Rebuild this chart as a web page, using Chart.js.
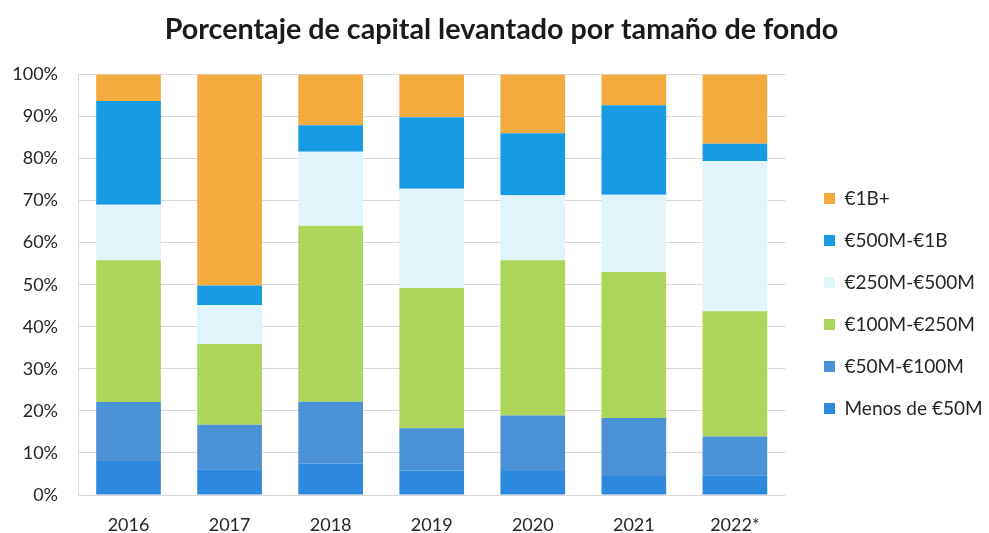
<!DOCTYPE html>
<html>
<head>
<meta charset="utf-8">
<script src="https://cdn.jsdelivr.net/npm/chart.js@4/dist/chart.umd.min.js"></script>
<style>
html,body{margin:0;padding:0;background:#fff;}
#wrap{width:989px;height:533px;}
</style>
</head>
<body>
<div id="wrap"><canvas id="c" width="989" height="533"></canvas></div>
<script>
const categories = ['2016','2017','2018','2019','2020','2021','2022*'];
const seriesNames = ['Menos de €50M','€50M-€100M','€100M-€250M','€250M-€500M','€500M-€1B','€1B+'];
const menos50 = [8.1, 6.1, 7.5, 5.8, 5.7, 4.5, 4.6];
const s50to100 = [14.0, 10.6, 14.7, 10.1, 13.2, 13.8, 9.3];
const s100to250 = [33.7, 19.2, 41.8, 33.3, 36.9, 34.7, 29.8];
const s250to500 = [13.2, 9.3, 17.6, 23.6, 15.5, 18.4, 35.7];
const s500to1B = [24.7, 4.6, 6.3, 17.0, 14.7, 21.3, 4.1];
const s1Bplus = [6.3, 50.2, 12.1, 10.2, 14.0, 7.3, 16.5];
const yTicks = [0,10,20,30,40,50,60,70,80,90,100];
const colors = ['#2D89DD','#4B91D6','#ADD55A','#E0F4FA','#179BE5','#F3AB3D'];

const seriesValues = [menos50, s50to100, s100to250, s250to500, s500to1B, s1Bplus];
const datasets = seriesValues.map((v,i)=>({
  label: seriesNames[i],
  data: v,
  backgroundColor: colors[i],
  borderWidth: 0,
  categoryPercentage: 1.0,
  barPercentage: 0.64
}));

const legendPlace = {
  id: 'legendPlace',
  afterLayout(chart) {
    const lg = chart.legend;
    if (lg) {
      const w = lg.width, h = lg.height;
      lg.left = 801; lg.right = lg.left + w;
      lg.top = 166; lg.bottom = Math.min(533, lg.top + Math.max(h, 300));
    }
    const t = chart.titleBlock;
    if (t) { t.left += 13; t.right += 13; }
  }
};

const FONT = 'Lato, "Open Sans", sans-serif';
new Chart(document.getElementById('c'), {
  type: 'bar',
  data: { labels: categories, datasets },
  plugins: [legendPlace],
  options: {
    responsive: false,
    animation: false,
    layout: { padding: { left: 0, right: 12, top: 4, bottom: 0 } },
    plugins: {
      title: {
        display: true,
        text: 'Porcentaje de capital levantado por tamaño de fondo',
        color: '#1a1a1a',
        font: { family: FONT, size: 28.7, weight: 'bold' },
        padding: { top: 9, bottom: 27 }
      },
      legend: {
        position: 'right',
        align: 'start',
        reverse: true,
        labels: {
          color: '#262626',
          font: { family: FONT, size: 19 },
          boxWidth: 11, boxHeight: 11,
          padding: 23
        }
      },
      tooltip: { enabled: false }
    },
    scales: {
      x: {
        stacked: true,
        grid: { display: false, drawTicks: false },
        border: { display: false },
        ticks: { color: '#262626', font: { family: FONT, size: 18 }, padding: 19 },
        afterFit: (s) => { s.height = 38; }
      },
      y: {
        stacked: true,
        min: 0, max: 100,
        afterBuildTicks: (s) => { s.ticks = yTicks.map(v=>({value:v})); },
        grid: { color: '#d9d9d9', lineWidth: 1, drawTicks: false },
        border: { display: true, color: '#d9d9d9' },
        ticks: { color: '#262626', font: { family: FONT, size: 18 }, padding: 20,
                 callback: (v) => v + '%' },
        afterFit: (s) => { s.width = 78; }
      }
    }
  }
});
</script>
</body>
</html>
